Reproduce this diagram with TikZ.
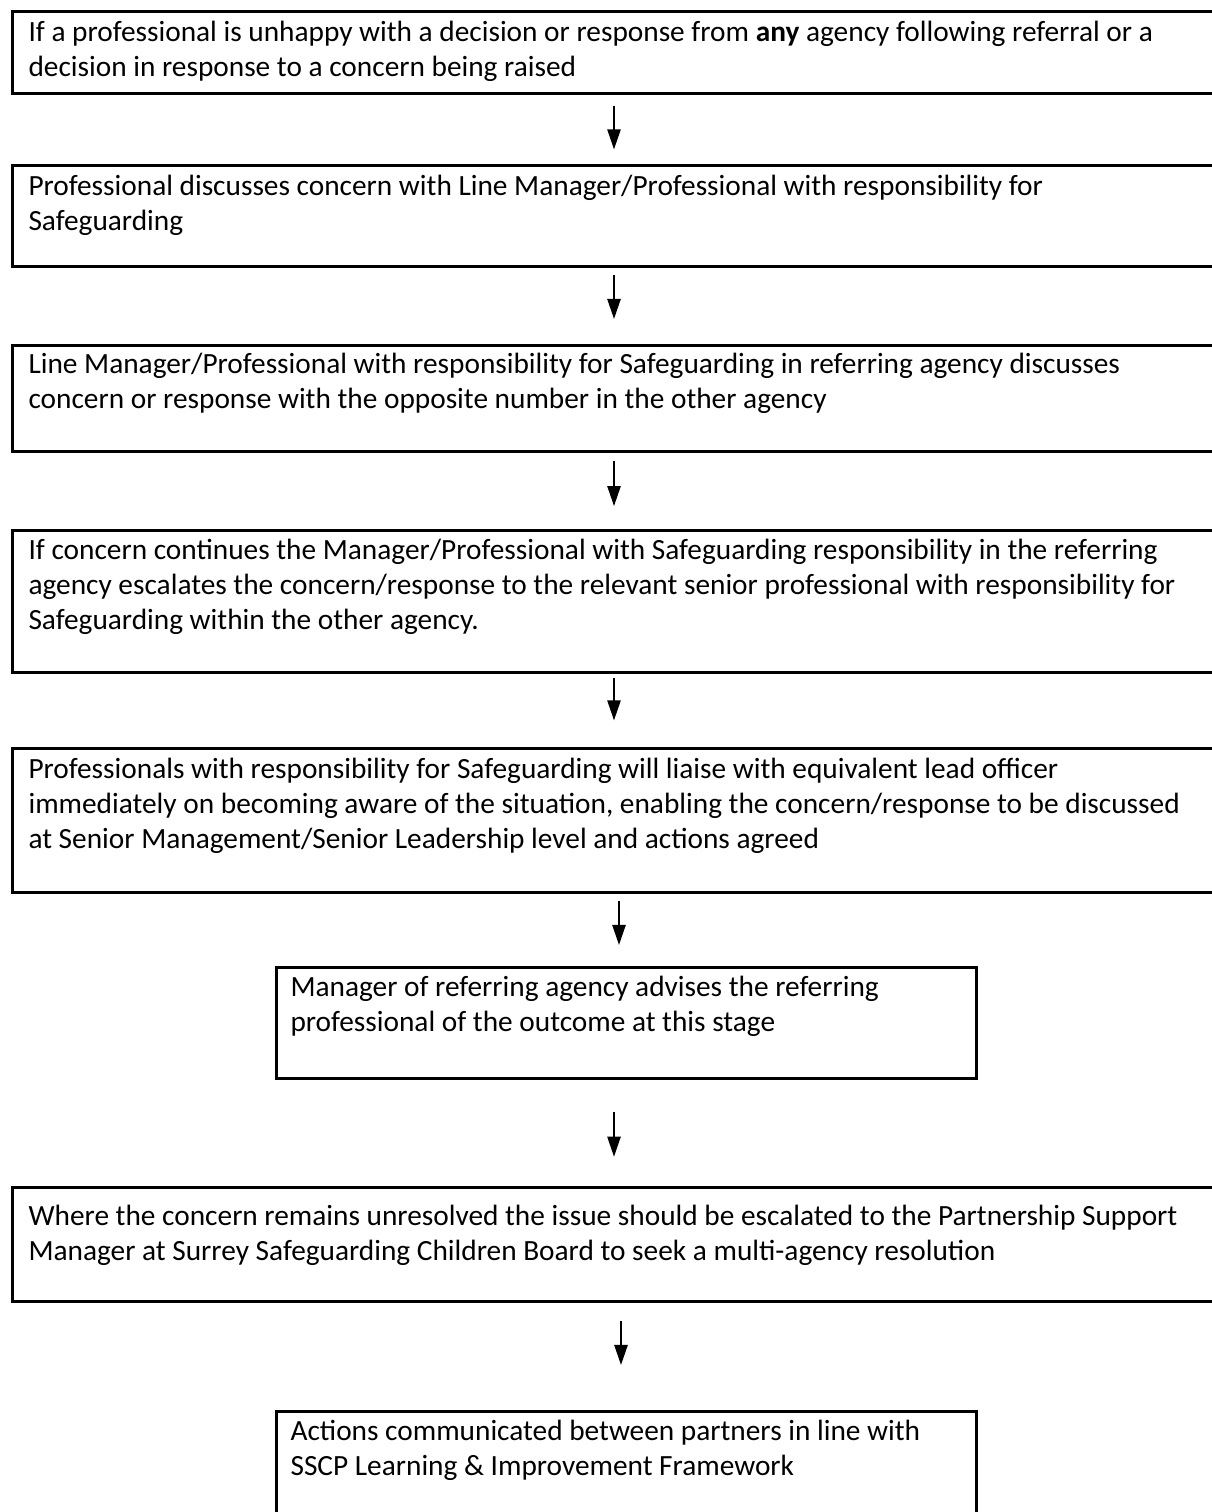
\documentclass[tikz,border=0pt]{standalone}
\usepackage{fontspec}
\setmainfont{Carlito}
\usetikzlibrary{arrows.meta}
\newcommand\mkbox[5]{\node[box, minimum width={(#4-#2)*0.375pt}, minimum height={(#5-#3)*0.375pt}] (#1) at (#2,#3) {};}
\begin{document}
\begin{tikzpicture}[x=0.375pt,y=-0.375pt,
  box/.style={draw, line width=1.1pt, rectangle, inner sep=0pt, anchor=north west},
  txt/.style={anchor=north west, inner sep=0pt, align=left, font=\fontsize{11}{13.1}\selectfont},
  arr/.style={line width=0.55pt, -{Triangle[width=5pt,length=7.5pt]}}]
\useasboundingbox (0,0) rectangle (1212,1512);
\clip (0,0) rectangle (1212,1512);
% boxes
\mkbox{b1}{11}{10}{1222}{92}
\mkbox{b2}{11}{164}{1222}{265}
\mkbox{b3}{11}{344}{1222}{450}
\mkbox{b4}{11}{529}{1222}{671}
\mkbox{b5}{11}{747}{1222}{891}
\mkbox{b6}{275}{966}{975}{1077}
\mkbox{b7}{11}{1186}{1222}{1300}
\mkbox{b8}{275}{1410}{975}{1540}
% texts
\node[txt] (t1) at (28,21) {If a professional is unhappy with a decision or response from \textbf{any} agency following referral or a\\decision in response to a concern being raised};
\node[txt] (t2) at (28,175) {Professional discusses concern with Line Manager/Professional with responsibility for\\Safeguarding};
\node[txt] (t3) at (28,353) {Line Manager/Professional with responsibility for Safeguarding in referring agency discusses\\concern or response with the opposite number in the other agency};
\node[txt] (t4) at (28,539) {If concern continues the Manager/Professional with Safeguarding responsibility in the referring\\agency escalates the concern/response to the relevant senior professional with responsibility for\\Safeguarding within the other agency.};
\node[txt] (t5) at (28,758) {Professionals with responsibility for Safeguarding will liaise with equivalent lead officer\\immediately on becoming aware of the situation, enabling the concern/response to be discussed\\at Senior Management/Senior Leadership level and actions agreed};
\node[txt] (t6) at (290,976) {Manager of referring agency advises the referring\\professional of the outcome at this stage};
\node[txt] (t7) at (28,1205) {Where the concern remains unresolved the issue should be escalated to the Partnership Support\\Manager at Surrey Safeguarding Children Board to seek a multi-agency resolution};
\node[txt] (t8) at (290,1420) {Actions communicated between partners in line with\\SSCP Learning \& Improvement Framework};
% arrow columns
\coordinate (xa) at (614,0);
\coordinate (xb) at (619,0);
\coordinate (xc) at (621,0);
\draw[arr, shorten <=4.0pt, shorten >=5.5pt] (b1.south -| xa) -- (b2.north -| xa);
\draw[arr, shorten <=2.8pt, shorten >=9.4pt] (b2.south -| xa) -- (b3.north -| xa);
\draw[arr, shorten <=3.0pt, shorten >=8.6pt] (b3.south -| xa) -- (b4.north -| xa);
\draw[arr, shorten <=1.5pt, shorten >=10pt] (b4.south -| xa) -- (b5.north -| xa);
\draw[arr, shorten <=2.6pt, shorten >=7.9pt] (b5.south -| xb) -- (b6.north -| xb);
\draw[arr, shorten <=12pt, shorten >=11pt] (b6.south -| xa) -- (b7.north -| xa);
\draw[arr, shorten <=6.7pt, shorten >=16.9pt] (b7.south -| xc) -- (b8.north -| xc);
\end{tikzpicture}
\end{document}
